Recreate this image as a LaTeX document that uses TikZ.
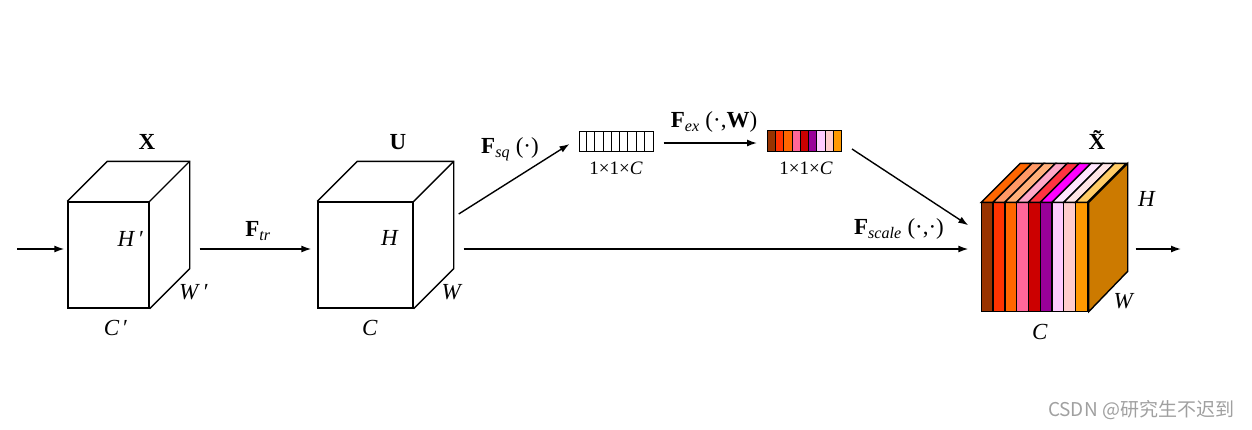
\documentclass[tikz,border=0pt]{standalone}
\usepackage{fontspec}
\setmainfont{Liberation Serif}
\newfontfamily\cjk{Noto Sans CJK SC}
\usepackage{tikz}
\usetikzlibrary{arrows.meta,calc,positioning}
\definecolor{SliceA}{HTML}{993300}
\definecolor{SliceB}{HTML}{FF3300}
\definecolor{SliceC}{HTML}{FF6600}
\definecolor{SliceD}{HTML}{FF6699}
\definecolor{SliceE}{HTML}{CC0000}
\definecolor{SliceF}{HTML}{990099}
\definecolor{SliceG}{HTML}{FFCCFF}
\definecolor{SliceH}{HTML}{FFCCCC}
\definecolor{SliceI}{HTML}{FF9900}
\definecolor{TopA}{HTML}{FF6600}
\definecolor{TopB}{HTML}{FF9966}
\definecolor{TopC}{HTML}{FFB07A}
\definecolor{TopD}{HTML}{FFA8C8}
\definecolor{TopE}{HTML}{FF3340}
\definecolor{TopF}{HTML}{FF00FF}
\definecolor{TopG}{HTML}{FFE6FF}
\definecolor{TopH}{HTML}{FFE6E6}
\definecolor{TopI}{HTML}{FFCC66}
\definecolor{SideFace}{HTML}{CC7A00}
\definecolor{MarkGray}{HTML}{A0A0A0}

\begin{document}
\begin{tikzpicture}[x=1pt,y=-1pt,
    edge/.style={line width=1.4pt,line join=miter},
    face/.style={draw,line width=1.4pt,inner sep=0pt},
    bar/.style={draw,line width=1pt,inner sep=0pt,minimum width=74pt,minimum height=20pt},
    arr/.style={line width=1.4pt,-{Latex[length=10pt,width=7pt]}},
    lbl/.style={font=\fontsize{23}{27}\selectfont,inner sep=0pt},
    dim/.style={font=\fontsize{19}{22}\selectfont,inner sep=0pt}]
  \useasboundingbox (0,0) rectangle (1252,429);

  % input and intermediate tensors
  \node[face,minimum width=81pt,minimum height=106pt] (X) at (108.5,255) {};
  \node[face,minimum width=95pt,minimum height=106pt] (U) at (365.5,255) {};
  \foreach \c in {X,U} {
    \draw[edge] (\c.north west) -- ++(40,-40) -| ([shift={(40,-40)}]\c.south east) -- (\c.south east);
    \draw[edge] (\c.north east) -- ++(40,-40);
  }
  \node[lbl,font=\fontsize{23}{27}\selectfont\bfseries] (Xname) at (147,142) {X};
  \node[lbl] (Xh) at (131,239) {\textit{H}\,′};
  \node[lbl] (Xw) at (194,292) {\textit{W}\,′};
  \node[lbl] (Xc) at (116,328) {\textit{C}\,′};
  \node[lbl,font=\fontsize{23}{27}\selectfont\bfseries] (Uname) at (398,142) {U};
  \node[lbl] (Uh) at (390,238) {\textit{H}};
  \node[lbl] (Uw) at (452,292) {\textit{W}};
  \node[lbl] (Uc) at (370,328) {\textit{C}};

  % channel descriptors
  \node[bar] (sq) at (616,141) {};
  \foreach \i in {1,...,8}
    \draw[line width=1pt] ([xshift=\i*8.22pt]sq.south west) -- ([xshift=\i*8.22pt]sq.north west);
  \node[bar] (ex) at (804.5,141) {};
  \foreach \f [count=\i from 0] in {SliceA,SliceB,SliceC,SliceD,SliceE,SliceF,SliceG,SliceH,SliceI}
    \draw[line width=1pt,fill=\f] ([xshift=\i*8.33pt]ex.south west) rectangle ([xshift=(\i+1)*8.33pt]ex.north west);
  \node[dim] (sqdim) at (616,168) {1×1×\textit{C}};
  \node[dim] (exdim) at (806,168) {1×1×\textit{C}};

  % rescaled output
  \node[face,minimum width=106pt,minimum height=108pt] (S) at (1035,257) {};
  \draw[edge,fill=SideFace] (S.north east) -- ++(39,-39) -- ++(0,108) -- (S.south east) -- cycle;
  \foreach \f/\t [count=\i from 0] in {SliceA/TopA,SliceB/TopB,SliceC/TopC,SliceD/TopD,SliceE/TopE,SliceF/TopF,SliceG/TopG,SliceH/TopH,SliceI/TopI} {
    \draw[edge,fill=\f] ([xshift=\i*11.778pt]S.north west) rectangle ([xshift=(\i+1)*11.778pt]S.south west);
    \draw[edge,fill=\t] ([xshift=\i*11.778pt]S.north west) -- ++(39,-39) -- ++(11.778,0) -- ++(-39,39) -- cycle;
  }
  \node[lbl,font=\fontsize{23}{27}\selectfont\bfseries] (Sname) at (1097,140) {\~X};
  \node[lbl] (Sh) at (1147,199) {\textit{H}};
  \node[lbl] (Sw) at (1124,301) {\textit{W}};
  \node[lbl] (Sc) at (1040,332) {\textit{C}};

  % connectors
  \coordinate (in) at (17,249);
  \coordinate (out) at (1181,249);
  \draw[arr] (in) -- ([shift={(-3,-6)}]X.west);
  \draw[arr] ([shift={(50,-6)}]X.east) -- ([shift={(-6,-6)}]U.west);
  \draw[arr] ([shift={(45,-41)}]U.east) -- ([shift={(-9,3)}]sq.west);
  \draw[arr] ([shift={(10,2)}]sq.east) -- ([shift={(-10,2)}]ex.west);
  \draw[arr] ([shift={(10,8)}]ex.east) -- ([shift={(-13,23)}]S.north west);
  \draw[arr] ([shift={(50,-6)}]U.east) -- ([shift={(-13,-8)}]S.west);
  \draw[arr] ([shift={(47,-8)}]S.east) -- (out);

  \node[lbl] (ftr) at (258,231) {\textbf{F}\textsubscript{\textit{tr}}};
  \node[lbl] (fsq) at (510,149) {\textbf{F}\textsubscript{\textit{sq}} (·)};
  \node[lbl] (fex) at (714,122) {\textbf{F}\textsubscript{\textit{ex}} (·,\textbf{W})};
  \node[lbl] (fscale) at (899,229) {\textbf{F}\textsubscript{\textit{scale}} (·,·)};

  \node[font=\fontsize{19}{22}\selectfont\cjk,text=MarkGray,inner sep=0pt] (mark) at (1141,410) {CSDN @研究生不迟到};
\end{tikzpicture}
\end{document}
